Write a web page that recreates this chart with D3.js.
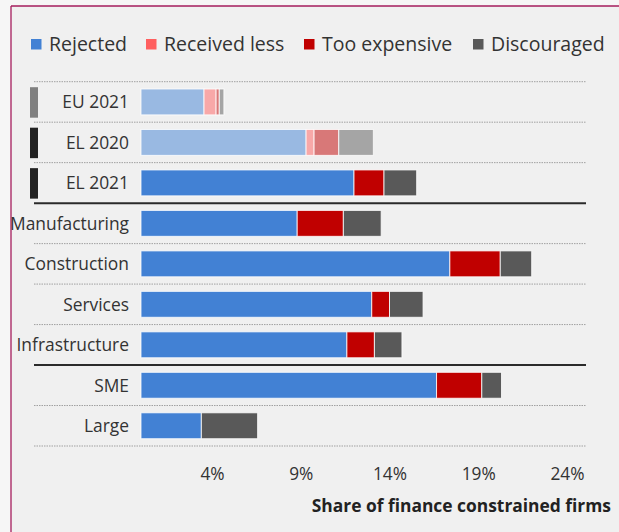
<!DOCTYPE html>
<html>
<head>
<meta charset="utf-8">
<script src="https://cdn.jsdelivr.net/npm/d3@7"></script>
<style>
  html, body { margin: 0; padding: 0; background: #f6f6f6; }
  svg { display: block; }
  text { font-family: "Open Sans", "Noto Sans", sans-serif; }
</style>
</head>
<body>
<svg id="chart" width="619" height="532"></svg>
<script>
// ---- data (values in %) ----
const categories = ["EU 2021", "EL 2020", "EL 2021", "Manufacturing", "Construction", "Services", "Infrastructure", "SME", "Large"];
const seriesNames = ["Rejected", "Received less", "Too expensive", "Discouraged"];
const rejected     = [3.55, 9.30, 12.00, 8.80, 17.40, 13.00, 11.60, 16.65, 3.40];
const receivedLess = [0.68, 0.45, 0, 0, 0, 0, 0, 0, 0];
const tooExpensive = [0.18, 1.39, 1.69, 2.60, 2.84, 1.00, 1.55, 2.55, 0];
const discouraged  = [0.26, 1.95, 1.84, 2.13, 1.77, 1.89, 1.55, 1.11, 3.17];
const tickValues = [4, 9, 14, 19, 24];
const fadedCategories = ["EU 2021", "EL 2020"];
const markerCategories = { "EU 2021": "#808080", "EL 2020": "#222222", "EL 2021": "#222222" };
const solidAfter = ["EL 2021", "Infrastructure"];
const xTitle = "Share of finance constrained firms";

const colors = ["#4281d4", "#ff5f5f", "#c00000", "#595959"];

// ---- build table ----
const table = categories.map((c, i) => ({
  category: c,
  "Rejected": rejected[i],
  "Received less": receivedLess[i],
  "Too expensive": tooExpensive[i],
  "Discouraged": discouraged[i]
}));
const stacked = d3.stack().keys(seriesNames)(table);

const svg = d3.select("#chart");
const W = 619, H = 532;

// frame
svg.append("rect").attr("x", 11).attr("y", 6).attr("width", W).attr("height", H)
  .attr("fill", "#f0f0f0");
svg.append("line").attr("x1", 11).attr("x2", 11).attr("y1", 6).attr("y2", H)
  .attr("stroke", "#a51c5c").attr("stroke-width", 1.3);
svg.append("line").attr("x1", 11).attr("x2", W).attr("y1", 6).attr("y2", 6)
  .attr("stroke", "#a51c5c").attr("stroke-width", 1.3);

// scales
const x = d3.scaleLinear().domain([0, 24]).range([141, 567]);
const y = d3.scaleBand().domain(categories).range([81.7, 446])
  .paddingInner(0.36).paddingOuter(0.18);
const step = y.step();
const gap = (step - y.bandwidth()) / 2;

const color = d3.scaleOrdinal().domain(seriesNames).range(colors);

// separators
const lineX1 = 34, lineX2 = 586;
const bounds = [y(categories[0]) - gap].concat(categories.map(c => y(c) + y.bandwidth() + gap));
bounds.forEach((b, i) => {
  const above = i > 0 ? categories[i - 1] : null;
  const solid = above && solidAfter.includes(above);
  svg.append("line")
    .attr("x1", lineX1).attr("x2", lineX2).attr("y1", b).attr("y2", b)
    .attr("stroke", solid ? "#2b2b2b" : "#a0a0a0")
    .attr("stroke-width", solid ? 2 : 1)
    .attr("stroke-dasharray", solid ? null : "1.5,1");
});

// bars
const g = svg.append("g");
stacked.forEach(layer => {
  g.selectAll(null).data(layer).join("rect")
    .attr("x", d => x(d[0]))
    .attr("y", d => y(d.data.category))
    .attr("width", d => Math.max(0, x(d[1]) - x(d[0])))
    .attr("height", y.bandwidth())
    .attr("fill", color(layer.key))
    .attr("fill-opacity", d => fadedCategories.includes(d.data.category) ? 0.5 : 1)
    .attr("stroke", "#ffffff")
    .attr("stroke-opacity", 0.8)
    .attr("stroke-width", d => (d[1] - d[0]) > 0 ? 1 : 0);
});

// markers
Object.entries(markerCategories).forEach(([c, col]) => {
  svg.append("rect")
    .attr("x", 30).attr("width", 8)
    .attr("y", y(c) - gap + 5.5).attr("height", step - 10)
    .attr("fill", col);
});

// category labels
svg.append("g").selectAll("text").data(categories).join("text")
  .attr("x", 129).attr("y", d => y(d) + y.bandwidth() / 2)
  .attr("dy", "0.36em")
  .attr("text-anchor", "end")
  .attr("font-size", 17.4)
  .attr("fill", "#333")
  .text(d => d);

// x axis
const axis = d3.axisBottom(x).tickValues(tickValues).tickFormat(d => d + "%").tickSize(0).tickPadding(0);
const ax = svg.append("g").attr("transform", "translate(0,468)").call(axis);
ax.select(".domain").remove();
ax.selectAll("text").attr("font-size", 17.3).attr("fill", "#333")
  .attr("font-family", "\"Open Sans\", sans-serif").attr("dy", "0.71em");

// x title
svg.append("text").attr("x", 611).attr("y", 512)
  .attr("text-anchor", "end").attr("font-size", 17.4).attr("font-weight", "bold")
  .attr("fill", "#222").text(xTitle);

// legend
const legendX = [31, 146, 304, 473];
const lg = svg.append("g");
seriesNames.forEach((s, i) => {
  lg.append("rect").attr("x", legendX[i]).attr("y", 39).attr("width", 10.5).attr("height", 10.5)
    .attr("fill", color(s));
  lg.append("text").attr("x", legendX[i] + 18).attr("y", 51)
    .attr("font-size", 19.5).attr("fill", "#333").text(s);
});
</script>
</body>
</html>
